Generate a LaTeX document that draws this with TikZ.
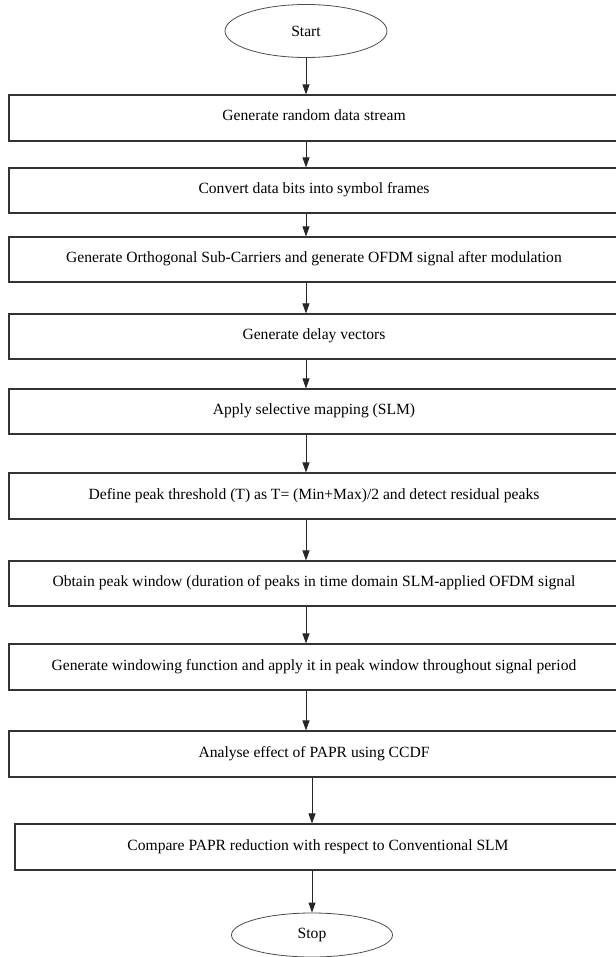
\documentclass[tikz,border=0pt]{standalone}
\usepackage{fontspec}
\setmainfont{Liberation Serif}
\usetikzlibrary{arrows.meta,shapes.geometric}
\tikzset{
  stepbox/.style={draw=black!80, line width=1.1pt, minimum width=610pt, minimum height=46pt,
    inner sep=0pt, text height=11pt, text depth=5pt, font=\fontsize{15.6}{18}\selectfont},
  termin/.style={ellipse, draw=black!70, line width=0.8pt, inner sep=0pt,
    font=\fontsize{15.6}{18}\selectfont},
  arr/.style={draw=black!85, line width=0.9pt, -{Triangle[width=7pt,length=10pt]}}
}

\begin{document}
\begin{tikzpicture}[x=1pt,y=-1pt]
			%%%%% START %%%%%
			\useasboundingbox (0,0) rectangle (615,957);
			
			\node[termin, minimum width=162pt, minimum height=53pt] (start) at (306,31) {Start};
			
			\node[stepbox] (randdata) at (314,118) {Generate random data stream};
			\node[stepbox, minimum height=45pt] (frames) at (314,190.5) {Convert data bits into symbol frames};
			\node[stepbox, minimum height=45pt] (ofdm) at (314,259.5) {Generate Orthogonal Sub-Carriers and generate OFDM signal after modulation};
			\node[stepbox, minimum height=45pt] (delay) at (314,336.5) {Generate delay vectors};
			\node[stepbox, minimum height=45pt] (slm) at (314,411.5) {Apply selective mapping (SLM)};
			\node[stepbox] (thresh) at (314,496) {Define peak threshold (T) as T= (Min+Max)/2 and detect residual peaks};
			\node[stepbox, minimum height=45pt] (peakwin) at (314,583.5) {Obtain peak window (duration of peaks in time domain SLM-applied OFDM signal};
			\node[stepbox] (windowing) at (314,667) {Generate windowing function and apply it in peak window throughout signal period};
			\node[stepbox] (ccdf) at (314,754) {Analyse effect of PAPR using CCDF};
			\node[stepbox, minimum width=606pt] (compare) at (318,847) {Compare PAPR reduction with respect to Conventional SLM};
			
			\node[termin, minimum width=161pt, minimum height=44pt] (stop) at (312,935) {Stop};
			
			\draw[arr] (start) -- (start |- randdata.north);
			\draw[arr] (randdata.south -| start) -- (frames.north -| start);
			\draw[arr] (frames.south -| start) -- (ofdm.north -| start);
			\draw[arr] (ofdm.south -| start) -- (delay.north -| start);
			\draw[arr] (delay.south -| start) -- (slm.north -| start);
			\draw[arr] (slm.south -| start) -- (thresh.north -| start);
			\draw[arr] (thresh.south -| start) -- (peakwin.north -| start);
			\draw[arr] (peakwin.south -| start) -- (windowing.north -| start);
			\draw[arr] (windowing.south -| start) -- (ccdf.north -| start);
			\draw[arr] (ccdf.south -| stop) -- (compare.north -| stop);
			\draw[arr] (compare.south -| stop) -- (stop);
			%%%%% END %%%%%
\end{tikzpicture}
\end{document}
